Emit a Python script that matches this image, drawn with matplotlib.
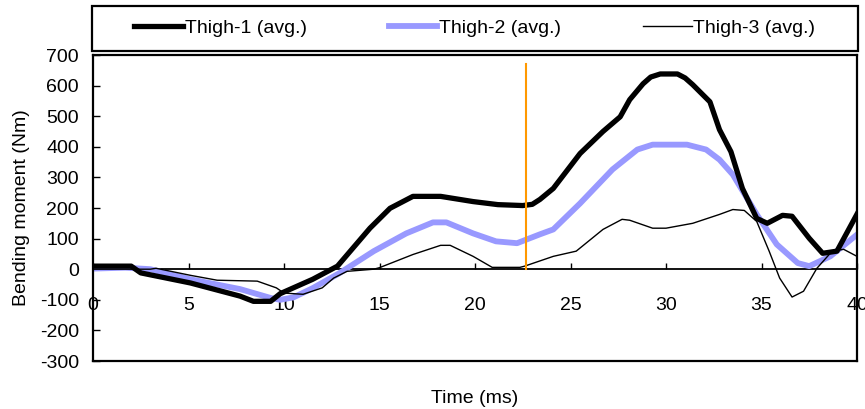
import matplotlib.pyplot as plt
from matplotlib.patches import Rectangle

plt.rcParams['font.family'] = ['Liberation Sans', 'DejaVu Sans']
plt.rcParams['axes.unicode_minus'] = False

# Thigh-1 (avg.)
t1 = [0, 2.0, 2.5, 5.1, 7.7, 8.4, 9.3, 9.8, 11.5, 12.8, 14.5, 15.55, 16.75, 18.2, 19.9,
      21.2, 22.5, 23.0, 23.4, 24.1, 25.5, 26.7, 27.6, 28.1, 28.8, 29.2, 29.7, 30.6, 31.0,
      31.4, 32.3, 32.8, 33.4, 34.0, 34.75, 35.3, 36.1, 36.6, 37.5, 38.2, 38.95, 40]
v1 = [10, 10, -12, -45, -88, -105, -105, -80, -33, 10, 134, 199, 238, 238, 221,
      211, 208, 212, 228, 264, 378, 450, 498, 554, 606, 628, 638, 638, 625,
      603, 547, 456, 384, 264, 166, 150, 176, 173, 101, 52, 59, 180]

# Thigh-2 (avg.)
t2 = [0, 1.7, 3.0, 5.1, 7.7, 9.3, 9.8, 10.5, 11.5, 12.9, 14.7, 16.4, 17.8, 18.5, 19.9,
      21.1, 22.2, 23.4, 24.1, 25.5, 27.2, 28.5, 29.3, 31.1, 32.1, 32.8, 33.5, 34.75,
      35.8, 36.9, 37.5, 38.6, 40]
v2 = [2, 5, 0, -33, -65, -94, -100, -92, -62, -13, 59, 117, 153, 153, 117,
      91, 85, 114, 130, 215, 326, 391, 407, 407, 391, 358, 309, 179,
      81, 20, 10, 42, 113]

# Thigh-3 (avg.)
t3 = [0, 3.0, 3.3, 5.1, 6.5, 8.6, 9.6, 10.0, 11.0, 12.0, 12.6, 13.3, 14.7, 15.0, 16.75,
      18.2, 18.7, 19.9, 20.9, 22.35, 22.6, 24.1, 25.3, 26.7, 27.7, 28.1, 29.3, 30.0,
      31.4, 32.8, 33.5, 34.1, 34.75, 35.4, 35.95, 36.6, 37.2, 37.9, 38.7, 39.3, 40]
v3 = [0, 0, 3, -20, -36, -39, -61, -78, -82, -61, -29, -7, 0, 5, 48,
      78, 78, 42, 6, 6, 10, 42, 59, 130, 163, 160, 134, 134,
      150, 179, 195, 192, 156, 59, -29, -91, -72, 3, 59, 65, 42]

labels = ['Thigh-1 (avg.)', 'Thigh-2 (avg.)', 'Thigh-3 (avg.)']

marker_t = 22.65
marker_top = 670

x_ticks = [0, 5, 10, 15, 20, 25, 30, 35, 40]
y_ticks = [-300, -200, -100, 0, 100, 200, 300, 400, 500, 600, 700]

fig = plt.figure(figsize=(8.65, 4.09), dpi=100)
ax = fig.add_axes([93 / 865, 1 - 361 / 409, 764 / 865, 306 / 409])

ax.plot(t1, v1, color='black', lw=3.8, label=labels[0], zorder=3)
ax.plot(t2, v2, color='#9999ff', lw=4.2, label=labels[1], zorder=2)
ax.plot(t3, v3, color='black', lw=1.0, label=labels[2], zorder=4)
ax.plot([marker_t, marker_t], [0, marker_top], color='#ff9900', lw=1.5, zorder=5)

ax.set_xlim(0, 40)
ax.set_ylim(-300, 700)
ax.set_yticks(y_ticks)
ax.set_xticks([])
for s in ax.spines.values():
    s.set_linewidth(1.6)

# x axis drawn on the zero line
sec = ax.secondary_xaxis(0.3)
sec.set_xticks(x_ticks)
sec.spines['bottom'].set_linewidth(1.3)
sec.tick_params(axis='x', direction='in', length=4, width=1, pad=20, labelsize=14)

ax.tick_params(axis='y', direction='in', length=5, width=1, pad=10, labelsize=14)

ax.set_ylabel('Bending moment (Nm)', fontsize=14, labelpad=7)
ax.set_xlabel('Time (ms)', fontsize=14)
ax.xaxis.set_label_coords(0.5, -0.095)

# legend box above the plot
fig.patches.append(Rectangle((92 / 865, 1 - 51 / 409), 766 / 865, 45 / 409,
                             transform=fig.transFigure, fill=False, lw=1.6,
                             edgecolor='black'))
fig.legend(loc='center', bbox_to_anchor=(475 / 865, 1 - 28.5 / 409),
           ncol=3, frameon=False, fontsize=14, handlelength=2.5,
           handletextpad=0.1, columnspacing=4.2)

fig.savefig('out.png', dpi=100)
